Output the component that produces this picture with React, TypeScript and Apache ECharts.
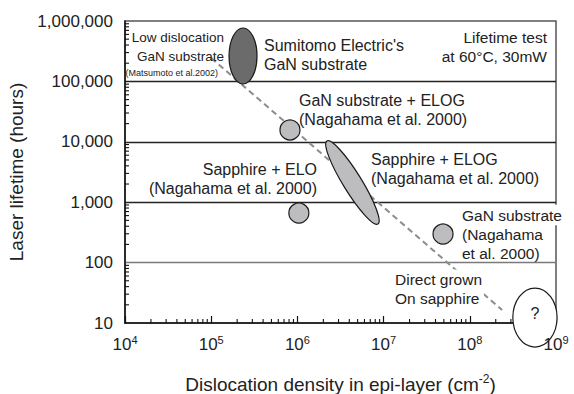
import React, { useEffect, useRef } from "react";
import * as echarts from "echarts";

// ---- data ----
const xMin = 1e4;
const xMax = 1e9;
const yMin = 10;
const yMax = 1e6;

// x tick labels are 10^exponent
const xTickExponents = [4, 5, 6, 7, 8, 9];

// circles: [dislocation density, lifetime]
const circleSamples: number[][] = [
  [8.2e5, 1.57e4], // GaN substrate + ELOG
  [1.04e6, 662], // Sapphire + ELO
  [4.89e7, 297], // GaN substrate
];

// ellipses: [x of one end, y of one end, x of other end, y of other end, width ratio]
const ellipseSamples: number[][] = [
  [2.34e5, 7.66e5, 2.34e5, 9.06e4, 0.5], // Sumitomo Electric's GaN substrate
  [2.2e6, 1.03e4, 8.6e6, 435, 0.19], // Sapphire + ELOG
  [5.7e8, 37.9, 5.7e8, 4.0, 0.75], // Direct grown on sapphire (?)
];
const ellipseFills = ["#6b6b6b", "#bdbdc0", "#ffffff"];

// dashed trend line
const trendLine: number[][] = [
  [1.0e5, 2.44e5],
  [2.37e8, 16.4],
];

const minorMultipliers = [2, 3, 4, 5, 6, 7, 8, 9];
const xDecades = [1e4, 1e5, 1e6, 1e7, 1e8];
const yDecades = [10, 100, 1000, 1e4, 1e5];
const xMinorTicks = xDecades.flatMap((d) => minorMultipliers.map((m) => m * d));
const yMinorTicks = yDecades.flatMap((d) => minorMultipliers.map((m) => m * d));

const FONT = '"Liberation Sans", Arial, Helvetica, sans-serif';
const INK = "#222";

function txt(
  x: number,
  y: number,
  text: string,
  size: number,
  align: string,
  extra: Record<string, unknown> = {}
) {
  return {
    type: "text",
    x,
    y,
    z: 100,
    silent: true,
    style: {
      text,
      fontSize: size,
      fontFamily: FONT,
      fill: INK,
      align,
      verticalAlign: "middle",
      lineHeight: 18.5,
      ...extra,
    },
  };
}

export default function App() {
  const ref = useRef<HTMLDivElement>(null);

  useEffect(() => {
    document.body.style.margin = "0";
    const chart = echarts.init(ref.current!, null, { renderer: "svg" });
    const option: any = {
      animation: false,
      backgroundColor: "#ffffff",
      textStyle: { fontFamily: FONT },
      grid: {
        left: 125,
        right: 18,
        top: 21,
        bottom: 71,
        show: true,
        borderColor: "#555",
        borderWidth: 1.5,
        containLabel: false,
        outerBoundsMode: "none",
      },
      xAxis: {
        type: "log",
        logBase: 10,
        min: xMin,
        max: xMax,
        axisLine: { lineStyle: { color: "#111", width: 1.5 } },
        axisTick: { inside: true, length: 7, lineStyle: { color: "#111", width: 1.2 } },
        splitLine: { show: false },
        axisLabel: { show: false },
        name: "{a|Dislocation density in epi-layer (cm}{s|-2}{a|)}",
        nameLocation: "middle",
        nameGap: 50,
        nameTextStyle: {
          rich: {
            a: { fontSize: 19, color: INK, fontFamily: FONT },
            s: { fontSize: 12, color: INK, fontFamily: FONT, padding: [0, 0, 11, 0] },
          },
        },
      },
      yAxis: {
        type: "log",
        logBase: 10,
        min: yMin,
        max: yMax,
        axisLine: { lineStyle: { color: "#111", width: 1.5 } },
        axisTick: { show: false },
        splitLine: {
          show: true,
          showMinLine: false,
          showMaxLine: false,
          lineStyle: { color: ["#7a7a7a", "#222", "#222", "#222"], width: 1.3 },
        },
        axisLabel: {
          margin: 12,
          fontSize: 17,
          color: INK,
          formatter: (v: number) => Math.round(v).toLocaleString("en-US"),
        },
        name: "Laser lifetime (hours)",
        nameLocation: "middle",
        nameGap: 92,
        nameTextStyle: { fontSize: 19, color: INK },
      },
      series: [
        {
          type: "line",
          data: trendLine,
          showSymbol: false,
          silent: true,
          z: 2,
          lineStyle: { color: "#8c8c8c", width: 2, type: [6, 4] },
        },
        {
          type: "custom",
          z: 3,
          clip: false,
          silent: true,
          data: xMinorTicks.map((v) => [v, yMin]),
          renderItem: (params: any, api: any) => {
            const p = api.coord([api.value(0), api.value(1)]);
            return {
              type: "line",
              shape: { x1: p[0], y1: p[1], x2: p[0], y2: p[1] - 4 },
              style: { stroke: "#111", lineWidth: 1.1 },
            };
          },
        },
        {
          type: "custom",
          z: 3,
          clip: false,
          silent: true,
          data: yMinorTicks.map((v) => [xMin, v]),
          renderItem: (params: any, api: any) => {
            const p = api.coord([api.value(0), api.value(1)]);
            return {
              type: "line",
              shape: { x1: p[0], y1: p[1], x2: p[0] + 4, y2: p[1] },
              style: { stroke: "#111", lineWidth: 1.1 },
            };
          },
        },
        {
          type: "custom",
          z: 6,
          clip: false,
          silent: true,
          data: ellipseSamples,
          encode: { x: [0, 2], y: [1, 3] },
          renderItem: (params: any, api: any) => {
            const p1 = api.coord([api.value(0), api.value(1)]);
            const p2 = api.coord([api.value(2), api.value(3)]);
            const dx = p2[0] - p1[0];
            const dy = p2[1] - p1[1];
            const len = Math.hypot(dx, dy);
            const ang = Math.atan2(dy, dx);
            return {
              type: "ellipse",
              x: (p1[0] + p2[0]) / 2,
              y: (p1[1] + p2[1]) / 2,
              rotation: -ang,
              shape: { cx: 0, cy: 0, rx: len / 2, ry: (len / 2) * api.value(4) },
              style: { fill: ellipseFills[params.dataIndex], stroke: "#1a1a1a", lineWidth: 1.2 },
            };
          },
        },
        {
          type: "scatter",
          z: 7,
          silent: true,
          data: circleSamples,
          symbol: "circle",
          symbolSize: 20,
          itemStyle: { color: "#bdbdc0", borderColor: "#1a1a1a", borderWidth: 1.2, opacity: 1 },
        },
        {
          // x tick labels (10^n), drawn above the shapes
          type: "custom",
          z: 8,
          clip: false,
          silent: true,
          data: xTickExponents.map((e) => [Math.pow(10, e), yMin, e]),
          encode: { x: 0, y: 1 },
          renderItem: (params: any, api: any) => {
            const p = api.coord([api.value(0), api.value(1)]);
            return {
              type: "text",
              x: p[0],
              y: p[1] + 11,
              style: {
                text: `{b|10}{s|${api.value(2)}}`,
                align: "center",
                verticalAlign: "top",
                fill: INK,
                rich: {
                  b: { fontSize: 17, fill: INK, fontFamily: FONT },
                  s: { fontSize: 11, fill: INK, fontFamily: FONT, padding: [0, 0, 10, 0] },
                },
              },
            };
          },
        },
      ],
      graphic: [
        txt(224, 47, "Low dislocation\nGaN substrate", 13.5, "right"),
        txt(218, 73, "(Matsumoto et al.2002)", 9, "right"),
        txt(264, 55, "Sumitomo Electric's\nGaN substrate", 16, "left"),
        txt(547, 47, "Lifetime test\nat 60°C, 30mW", 15.5, "right"),
        txt(299, 110, "GaN substrate + ELOG\n(Nagahama et al. 2000)", 16, "left"),
        txt(371, 169, "Sapphire + ELOG\n(Nagahama et al. 2000)", 16, "left"),
        txt(317, 178.5, "Sapphire + ELO\n(Nagahama et al. 2000)", 16, "right", { lineHeight: 19 }),
        txt(462, 215, "GaN substrate", 15.5, "left", { backgroundColor: "#fff", padding: [1, 1, 1, 0] }),
        txt(462, 244, "(Nagahama\net al. 2000)", 15.5, "left"),
        txt(395, 289, "Direct grown\nOn sapphire", 15.5, "left", { backgroundColor: "#fff", padding: [1, 2, 1, 0] }),
        txt(535, 313, "?", 16, "center"),
      ],
    };
    chart.setOption(option);
    return () => chart.dispose();
  }, []);

  return <div ref={ref} style={{ width: 574, height: 394 }} />;
}
